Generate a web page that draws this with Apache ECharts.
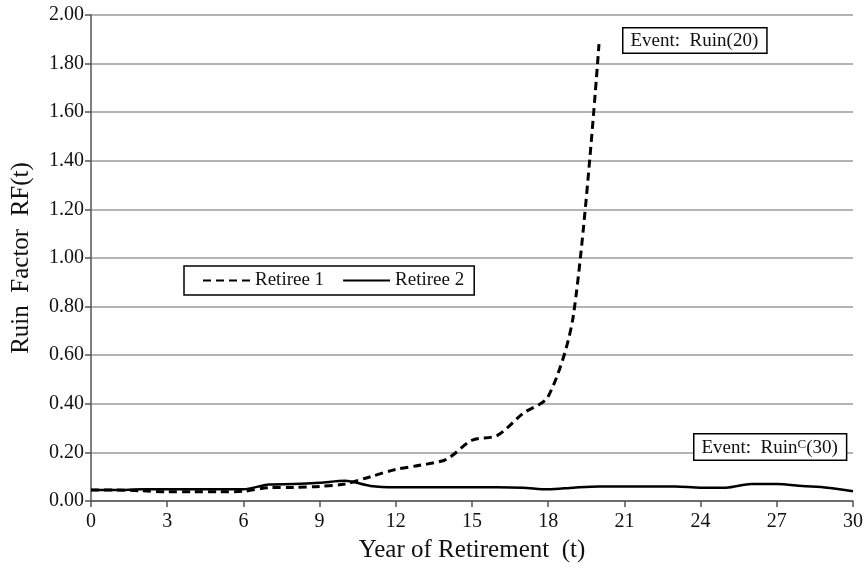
<!DOCTYPE html>
<html>
<head>
<meta charset="utf-8">
<script src="https://cdn.jsdelivr.net/npm/echarts@6/dist/echarts.min.js"></script>
<style>
  html, body { margin: 0; padding: 0; background: #fff; }
  #main { width: 868px; height: 569px; }
</style>
</head>
<body>
<div id="main"></div>
<script>
// year of retirement t = 0..30
var years = [];
for (var i = 0; i <= 30; i++) years.push(i);

// ruin factor RF(t)
var retiree1 = [0.045, 0.045, 0.042, 0.038, 0.038, 0.038, 0.040, 0.055, 0.056, 0.060,
  0.070, 0.100, 0.130, 0.148, 0.172, 0.250, 0.270, 0.360, 0.430, 0.770, 1.880];
var retiree2 = [0.045, 0.045, 0.048, 0.048, 0.048, 0.048, 0.048, 0.068, 0.070, 0.075,
  0.083, 0.062, 0.057, 0.057, 0.057, 0.057, 0.057, 0.055, 0.048, 0.055,
  0.060, 0.060, 0.060, 0.060, 0.055, 0.055, 0.070, 0.070, 0.062, 0.055, 0.040];

var chartDom = document.getElementById("main");
var myChart = echarts.init(chartDom);
var option;

var serif = "Liberation Serif";

function pairs(vals) {
  return vals.map(function (v, i) {
    return [years[i], v];
  });
}

option = {
  animation: false,
  textStyle: { fontFamily: serif },
  grid: { left: 91, right: 15, top: 15, bottom: 68 },
  legend: {
    left: 184,
    top: 266,
    orient: "horizontal",
    itemWidth: 47,
    itemHeight: 10,
    itemGap: 18,
    padding: [5, 10, 5, 18],
    borderColor: "#000",
    borderWidth: 1.5,
    backgroundColor: "#fff",
    itemStyle: { opacity: 0 },
    textStyle: { fontFamily: serif, fontSize: 19, color: "#111" },
    data: ["Retiree 1", "Retiree 2"],
  },
  xAxis: {
    type: "value",
    min: 0,
    max: 30,
    interval: 3,
    name: "Year of Retirement  (t)",
    nameLocation: "middle",
    nameGap: 37,
    nameTextStyle: { fontFamily: serif, fontSize: 25, color: "#111" },
    axisLine: { lineStyle: { color: "#555", width: 1.5 } },
    axisTick: { show: true, length: 6, lineStyle: { color: "#555", width: 1.5 } },
    axisLabel: { fontFamily: serif, fontSize: 20, color: "#111", margin: 11 },
    splitLine: { show: false },
  },
  yAxis: {
    type: "value",
    min: 0,
    max: 2,
    interval: 0.2,
    name: "Ruin  Factor  RF(t)",
    nameLocation: "middle",
    nameGap: 57,
    nameTextStyle: { fontFamily: serif, fontSize: 25, color: "#111" },
    axisLine: { show: true, lineStyle: { color: "#555", width: 1.5 } },
    axisTick: { show: true, length: 6, lineStyle: { color: "#555", width: 1.5 } },
    axisLabel: {
      fontFamily: serif,
      fontSize: 20,
      color: "#111",
      margin: 7,
      formatter: function (v) {
        return v.toFixed(2);
      },
    },
    splitLine: { show: true, lineStyle: { color: "#b4b4b4", width: 2 } },
  },
  series: [
    {
      name: "Retiree 1",
      type: "line",
      smooth: 0.3,
      symbol: "none",
      z: 3,
      lineStyle: { color: "#000", width: 3, type: [8, 5] },
      itemStyle: { color: "#000" },
      data: pairs(retiree1),
    },
    {
      name: "Retiree 2",
      type: "line",
      smooth: 0.3,
      symbol: "none",
      z: 2,
      lineStyle: { color: "#000", width: 2.5 },
      itemStyle: { color: "#000" },
      data: pairs(retiree2),
    },
  ],
  graphic: [
    {
      type: "text",
      left: 622,
      top: 27,
      z: 10,
      style: {
        text: "Event:  Ruin(20)",
        font: "19px " + serif,
        fill: "#111",
        backgroundColor: "#fff",
        borderColor: "#000",
        borderWidth: 1.5,
        padding: [3, 8, 2, 7],
      },
    },
    {
      type: "text",
      left: 693,
      top: 433,
      z: 10,
      style: {
        text: "{a|Event:  Ruin}{s|C}{a|(30)}",
        fill: "#111",
        backgroundColor: "#fff",
        borderColor: "#000",
        borderWidth: 1.5,
        padding: [4, 8, 2, 7],
        rich: {
          a: { fontFamily: serif, fontSize: 19, color: "#111", verticalAlign: "bottom" },
          s: { fontFamily: serif, fontSize: 13, color: "#111", verticalAlign: "top" },
        },
      },
    },
  ],
};

option && myChart.setOption(option);
</script>
</body>
</html>
